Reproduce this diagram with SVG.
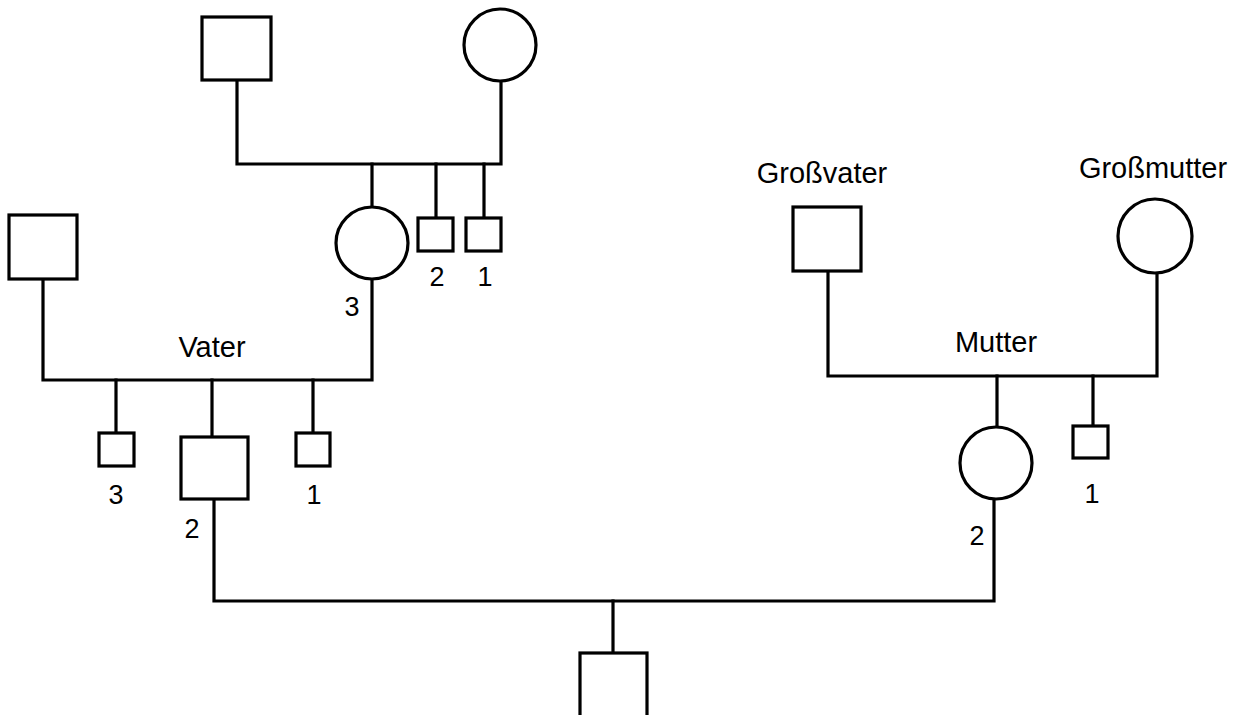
<svg xmlns="http://www.w3.org/2000/svg" width="1235" height="715" viewBox="0 0 1235 715">
<style>
.n{fill:#fff;stroke:#000;stroke-width:3.2}
.c{fill:none;stroke:#000;stroke-width:3.2;stroke-linecap:square}
.t{font-family:"Liberation Sans",Arial,sans-serif;font-size:29px;fill:#000;text-anchor:middle}
.d{font-family:"Liberation Sans",Arial,sans-serif;font-size:27px;fill:#000;text-anchor:middle}
</style>
<rect width="1235" height="715" fill="#fff"/>
<g id="connectors">
<path class="c" d="M237 81V164H501V82"/>
<path class="c" d="M372 164V207M436 164V218M484 164V218"/>
<path class="c" d="M43 280V380H372V279"/>
<path class="c" d="M116 380V433M212 380V437M313 380V433"/>
<path class="c" d="M828 271V376H1157V273"/>
<path class="c" d="M997 376V426M1093 376V426"/>
<path class="c" d="M214 499V601H994V499"/>
<path class="c" d="M613 601V653"/>
</g>
<g id="ur-grossvater-v"><rect class="n" x="202" y="17" width="69" height="63"/></g>
<g id="ur-grossmutter-v"><circle class="n" cx="500" cy="45" r="36"/></g>
<g id="grossmutter-v"><circle class="n" cx="372" cy="243" r="36"/><text class="d" x="352" y="316">3</text></g>
<g id="sib-gm-2"><rect class="n" x="418" y="218" width="35" height="33"/><text class="d" x="437" y="286">2</text></g>
<g id="sib-gm-1"><rect class="n" x="466" y="218" width="35" height="33"/><text class="d" x="485" y="286">1</text></g>
<g id="grossvater-v"><rect class="n" x="9" y="215" width="68" height="64"/></g>
<g id="vater-label"><text class="t" x="212" y="357">Vater</text></g>
<g id="sib-v-3"><rect class="n" x="99" y="433" width="35" height="33"/><text class="d" x="116" y="504">3</text></g>
<g id="vater"><rect class="n" x="181" y="437" width="67" height="62"/><text class="d" x="192" y="538">2</text></g>
<g id="sib-v-1"><rect class="n" x="296" y="433" width="34" height="33"/><text class="d" x="314" y="504">1</text></g>
<g id="grossvater"><text class="t" x="822" y="183">Großvater</text><rect class="n" x="793" y="207" width="68" height="64"/></g>
<g id="grossmutter"><text class="t" x="1153" y="178">Großmutter</text><circle class="n" cx="1155" cy="236" r="37"/></g>
<g id="mutter-label"><text class="t" x="996" y="352">Mutter</text></g>
<g id="mutter"><circle class="n" cx="996" cy="463" r="36"/><text class="d" x="977" y="545">2</text></g>
<g id="sib-m-1"><rect class="n" x="1073" y="426" width="35" height="32"/><text class="d" x="1092" y="503">1</text></g>
<g id="kind"><rect class="n" x="580" y="653" width="67" height="70"/></g>
</svg>
